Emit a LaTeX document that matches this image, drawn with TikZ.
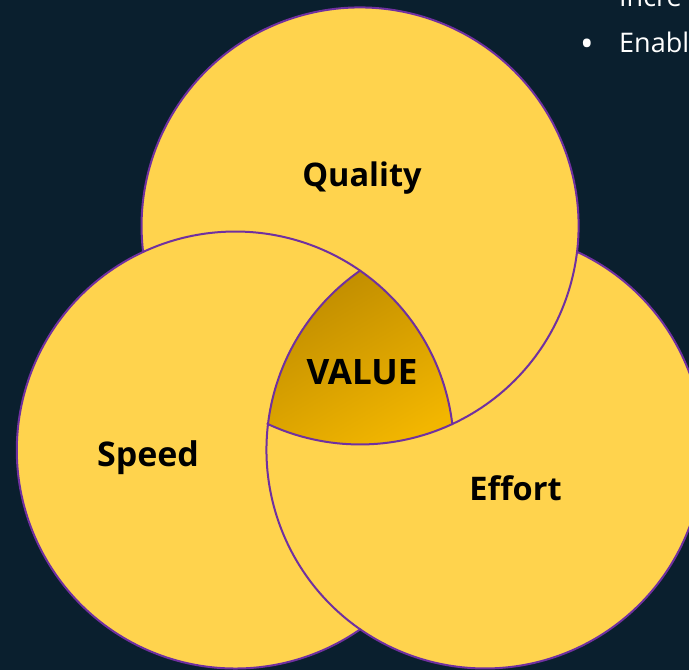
\documentclass[tikz,border=0pt]{standalone}
\usepackage{fontspec}
\setmainfont{Open Sans}
\definecolor{bgc}{HTML}{0A1F2E}
\definecolor{yel}{HTML}{FFD34D}
\definecolor{pur}{HTML}{7030A0}
\definecolor{dk}{HTML}{BF8C00}
\definecolor{lt}{HTML}{F2B600}
\tikzset{
  edge/.style={draw=pur,line width=2pt,line cap=round},
  lab/.style={font=\fontsize{32.5}{33}\selectfont\bfseries,text=black,inner sep=0pt,anchor=base},
  side/.style={font=\fontsize{27}{27}\selectfont,text=white,inner sep=0pt,anchor=base west}
}
\begin{document}
\begin{tikzpicture}[x=1pt,y=1pt]
\useasboundingbox (0,0) rectangle (689,670);
\clip (0,0) rectangle (689,670);
\fill[bgc] (0,0) rectangle (689,670);
% circle centres
\coordinate (T) at (360,444);
\coordinate (L) at (235.5,220);
\coordinate (R) at (485,220);
% yellow discs
\fill[yel] (T) circle (218.5);
\fill[yel] (L) circle (218.5);
\fill[yel] (R) circle (218.5);
% centre region
\def\pathV{(360.25,399.4) arc[start angle=55.2,end angle=6.8,radius=218.5]
  arc[start angle=-65,end angle=-115.1,radius=218.5]
  arc[start angle=173.2,end angle=124.8,radius=218.5] -- cycle}
\shade[top color=dk,bottom color=lt,shading angle=30] \pathV;
% outline segments
\draw[edge] (452.4,246) arc[start angle=-65,end angle=186.8,radius=218.5];
\draw[edge] (452.4,246) arc[start angle=-65,end angle=-115.1,radius=218.5];
\draw[edge] (143,418) arc[start angle=115,end angle=6.8,radius=218.5];
\draw[edge] (143,418) arc[start angle=115,end angle=304.8,radius=218.5];
\draw[edge] (577,418.2) arc[start angle=65.1,end angle=-124.8,radius=218.5];
\draw[edge] (360.25,40.6) arc[start angle=235.2,end angle=124.8,radius=218.5];
% labels
\node[lab] (quality) at (362,483) {Quality};
\node[lab,font=\fontsize{34}{34}\selectfont\bfseries] (speed) at (148,203) {Speed};
\node[lab] (effort) at (515.5,169) {Effort};
\node[lab,font=\fontsize{35}{35}\selectfont\bfseries] (value) at (362,285.5) {VALUE};
\node[side] (incre) at (619,663) {Incre};
\node[side,font=\fontsize{36}{36}\selectfont] (bull) at (580,613) {•};
\node[side] (enabl) at (619,617) {Enabl};
\end{tikzpicture}
\end{document}
